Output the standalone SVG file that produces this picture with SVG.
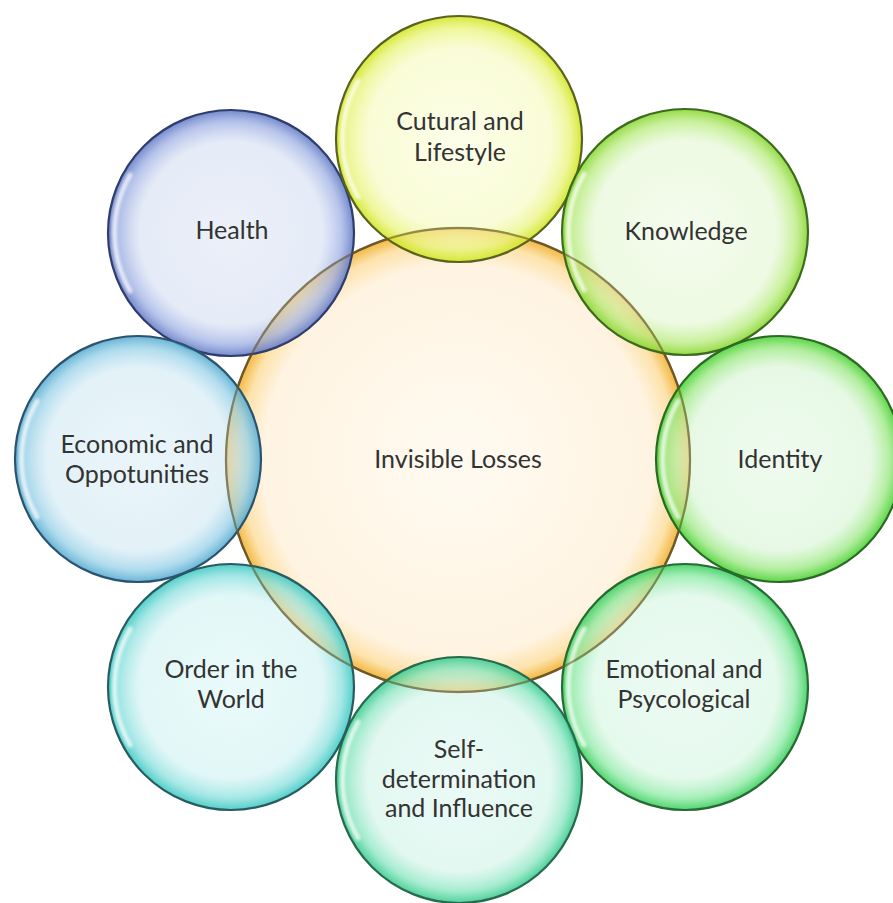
<svg xmlns="http://www.w3.org/2000/svg" xmlns:xlink="http://www.w3.org/1999/xlink" width="893" height="903" viewBox="0 0 893 903">
  <style>
    .lbl { font-family: "Lato", "Open Sans", "Liberation Sans", sans-serif; font-size: 25px; fill: #333333; text-anchor: middle; }
    .bubble { stroke-width: 2.2; }
    .core { stroke: #6e5a28; stroke-width: 2.4; }
    .core-edge { fill: none; stroke: #6e5a28; stroke-width: 2; opacity: 0.55; }
  </style>
  <defs>
    <!-- central disc -->
    <radialGradient id="gCore" cx="0.5" cy="0.5" r="0.5">
      <stop offset="0" stop-color="#fffaf1"/>
      <stop offset="0.84" stop-color="#fff4e2"/>
      <stop offset="0.94" stop-color="#fde2aa"/>
      <stop offset="1" stop-color="#f3b843"/>
    </radialGradient>
    <!-- bubble fills: translucent pale centre, denser saturated rim -->
    <radialGradient id="gHealth" cx="0.5" cy="0.5" r="0.5">
      <stop offset="0" stop-color="#dbe4f4" stop-opacity="0.55"/>
      <stop offset="0.74" stop-color="#d0dbf0" stop-opacity="0.55"/>
      <stop offset="0.9" stop-color="#9eb0e4" stop-opacity="0.75"/>
      <stop offset="1" stop-color="#657cc6" stop-opacity="0.9"/>
    </radialGradient>
    <radialGradient id="gCulture" cx="0.5" cy="0.5" r="0.5">
      <stop offset="0" stop-color="#fbfdd7" stop-opacity="0.55"/>
      <stop offset="0.74" stop-color="#f4fab4" stop-opacity="0.55"/>
      <stop offset="0.9" stop-color="#e8f478" stop-opacity="0.75"/>
      <stop offset="1" stop-color="#d1e520" stop-opacity="0.9"/>
    </radialGradient>
    <radialGradient id="gKnow" cx="0.5" cy="0.5" r="0.5">
      <stop offset="0" stop-color="#ebfae0" stop-opacity="0.55"/>
      <stop offset="0.74" stop-color="#e0f6cc" stop-opacity="0.55"/>
      <stop offset="0.9" stop-color="#b7eb7b" stop-opacity="0.75"/>
      <stop offset="1" stop-color="#88d630" stop-opacity="0.9"/>
    </radialGradient>
    <radialGradient id="gIdent" cx="0.5" cy="0.5" r="0.5">
      <stop offset="0" stop-color="#e2f8e2" stop-opacity="0.55"/>
      <stop offset="0.74" stop-color="#d3f4d0" stop-opacity="0.55"/>
      <stop offset="0.9" stop-color="#98e87e" stop-opacity="0.75"/>
      <stop offset="1" stop-color="#48d133" stop-opacity="0.9"/>
    </radialGradient>
    <radialGradient id="gEmo" cx="0.5" cy="0.5" r="0.5">
      <stop offset="0" stop-color="#def8e9" stop-opacity="0.55"/>
      <stop offset="0.74" stop-color="#d0f4de" stop-opacity="0.55"/>
      <stop offset="0.9" stop-color="#8beaa4" stop-opacity="0.75"/>
      <stop offset="1" stop-color="#3acf5c" stop-opacity="0.9"/>
    </radialGradient>
    <radialGradient id="gSelf" cx="0.5" cy="0.5" r="0.5">
      <stop offset="0" stop-color="#dbf6ef" stop-opacity="0.55"/>
      <stop offset="0.74" stop-color="#ccf2e6" stop-opacity="0.55"/>
      <stop offset="0.9" stop-color="#88e6c0" stop-opacity="0.75"/>
      <stop offset="1" stop-color="#3acb8f" stop-opacity="0.9"/>
    </radialGradient>
    <radialGradient id="gOrder" cx="0.5" cy="0.5" r="0.5">
      <stop offset="0" stop-color="#d9f6f6" stop-opacity="0.55"/>
      <stop offset="0.74" stop-color="#caf0f0" stop-opacity="0.55"/>
      <stop offset="0.9" stop-color="#88e0de" stop-opacity="0.75"/>
      <stop offset="1" stop-color="#3dc9c3" stop-opacity="0.9"/>
    </radialGradient>
    <radialGradient id="gEcon" cx="0.5" cy="0.5" r="0.5">
      <stop offset="0" stop-color="#d9edf6" stop-opacity="0.55"/>
      <stop offset="0.74" stop-color="#cce7f2" stop-opacity="0.55"/>
      <stop offset="0.9" stop-color="#96d0e8" stop-opacity="0.75"/>
      <stop offset="1" stop-color="#57acd1" stop-opacity="0.9"/>
    </radialGradient>
    <filter id="soft" x="-20%" y="-20%" width="140%" height="140%">
      <feGaussianBlur stdDeviation="1.6"/>
    </filter>
    <!-- glossy crescent on the left inside of a bubble of radius 123 -->
    <g id="gloss">
      <path d="M -101 -58 A 116 116 0 0 0 -101 58" fill="none" stroke="#ffffff" stroke-width="5" stroke-linecap="round" opacity="0.75" filter="url(#soft)"/>
    </g>
  </defs>

  <rect width="893" height="903" fill="#ffffff"/>

  <g id="core">
    <circle class="core" cx="458" cy="460" r="232" fill="url(#gCore)"/>
  </g>

  <g id="health">
    <circle class="bubble" cx="231" cy="233" r="123" fill="url(#gHealth)" stroke="#2e3d6e"/>
    <use href="#gloss" transform="translate(231 233)"/>
    <text class="lbl" x="232" y="239">Health</text>
  </g>

  <g id="culture">
    <circle class="bubble" cx="459" cy="139" r="123" fill="url(#gCulture)" stroke="#5a6222"/>
    <use href="#gloss" transform="translate(459 139)"/>
    <text class="lbl" x="460" y="130">Cutural and</text>
    <text class="lbl" x="460" y="161">Lifestyle</text>
  </g>

  <g id="knowledge">
    <circle class="bubble" cx="685" cy="232" r="123" fill="url(#gKnow)" stroke="#3c6a1e"/>
    <use href="#gloss" transform="translate(685 232)"/>
    <text class="lbl" x="686" y="240">Knowledge</text>
  </g>

  <g id="identity">
    <circle class="bubble" cx="779" cy="459" r="123" fill="url(#gIdent)" stroke="#2c6a24"/>
    <use href="#gloss" transform="translate(779 459)"/>
    <text class="lbl" x="780" y="468">Identity</text>
  </g>

  <g id="emotional">
    <circle class="bubble" cx="685" cy="687" r="123" fill="url(#gEmo)" stroke="#276a36"/>
    <use href="#gloss" transform="translate(685 687)"/>
    <text class="lbl" x="684" y="678">Emotional and</text>
    <text class="lbl" x="684" y="708">Psycological</text>
  </g>

  <g id="self">
    <circle class="bubble" cx="459" cy="780" r="123" fill="url(#gSelf)" stroke="#276a4e"/>
    <use href="#gloss" transform="translate(459 780)"/>
    <text class="lbl" x="459" y="758">Self-</text>
    <text class="lbl" x="459" y="788">determination</text>
    <text class="lbl" x="459" y="817">and Influence</text>
  </g>

  <g id="order">
    <circle class="bubble" cx="231" cy="687" r="123" fill="url(#gOrder)" stroke="#285c60"/>
    <use href="#gloss" transform="translate(231 687)"/>
    <text class="lbl" x="231" y="678">Order in the</text>
    <text class="lbl" x="231" y="708">World</text>
  </g>

  <g id="economic">
    <circle class="bubble" cx="138" cy="459" r="123" fill="url(#gEcon)" stroke="#2b536e"/>
    <use href="#gloss" transform="translate(138 459)"/>
    <text class="lbl" x="137" y="453">Economic and</text>
    <text class="lbl" x="137" y="483">Oppotunities</text>
  </g>

  <g id="centre-label">
    <circle class="core-edge" cx="458" cy="460" r="232"/>
    <text class="lbl" x="458" y="468">Invisible Losses</text>
  </g>

  <g id="connectors"/>
</svg>
